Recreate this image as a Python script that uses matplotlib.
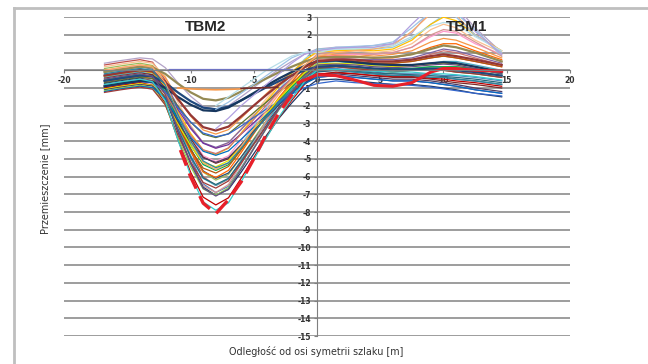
import numpy as np
import matplotlib
matplotlib.use("Agg")
import matplotlib.pyplot as plt
from matplotlib.lines import Line2D

plt.rcParams['axes.unicode_minus'] = False

# measuring points [m] shared by all profiles
x_pts = [-16.8, -15.5, -14, -13, -12, -11, -10, -9, -8, -7, -6, -5, -4, -3, -2, -1, 0,
         1.5, 3, 4.5, 6, 7.5, 9, 10, 11, 12.5, 14.6]

# settlement profiles [mm], one row per measurement series
profiles = [
    [0.4, 0.55, 0.7, 0.64, 0.15, -0.7, -1.46, -2.04, -2.2, -2.0, -1.5, -0.97, -0.44, 0.06, 0.5, 0.91, 1.2, 1.3, 1.3, 1.4, 1.5, 2.1, 3.4, 3.9, 3.6, 2.4, 1.0],
    [0.3, 0.45, 0.6, 0.46, -0.55, -2.65, -4.54, -6.01, -6.5, -6.15, -5.1, -3.98, -2.86, -1.81, -0.9, -0.06, 0.5, 0.6, 0.5, 0.4, 0.4, 0.5, 0.7, 0.8, 0.7, 0.5, 0.2],
    [0.2, 0.35, 0.5, 0.4, -0.35, -1.8, -3.1, -4.1, -4.4, -4.1, -3.3, -2.45, -1.6, -0.8, -0.1, 0.55, 1.0, 1.1, 1.1, 1.0, 1.1, 1.5, 2.3, 2.6, 2.4, 1.7, 1.0],
    [0.1, 0.25, 0.4, 0.27, -0.68, -2.63, -4.39, -5.75, -6.2, -5.88, -4.9, -3.86, -2.83, -1.85, -1.0, -0.22, 0.3, 0.3, 0.2, 0.1, 0.1, 0.1, 0.2, 0.2, 0.2, 0.1, -0.2],
    [0.0, 0.15, 0.3, 0.22, -0.4, -1.55, -2.58, -3.37, -3.6, -3.35, -2.7, -2.01, -1.32, -0.67, -0.1, 0.43, 0.8, 0.9, 0.9, 0.8, 0.9, 1.1, 1.6, 1.8, 1.7, 1.3, 0.7],
    [-0.05, 0.1, 0.25, 0.14, -0.68, -2.28, -3.72, -4.82, -5.15, -4.83, -3.95, -3.02, -2.1, -1.22, -0.45, 0.26, 0.75, 0.85, 0.9, 0.9, 1.0, 1.3, 1.9, 2.2, 2.1, 1.5, 0.9],
    [-0.1, 0.05, 0.2, 0.06, -0.95, -3.05, -4.94, -6.41, -6.9, -6.55, -5.5, -4.38, -3.26, -2.21, -1.3, -0.46, 0.1, 0.1, 0.0, -0.1, -0.2, -0.2, -0.2, -0.3, -0.3, -0.4, -0.6],
    [-0.2, -0.05, 0.1, -0.02, -0.9, -2.6, -4.12, -5.28, -5.6, -5.2, -4.2, -3.14, -2.08, -1.08, -0.2, 0.62, 1.2, 1.2, 1.2, 1.2, 1.3, 1.8, 2.6, 3.1, 3.2, 2.3, 0.8],
    [-0.25, -0.1, 0.05, -0.04, -0.73, -2.03, -3.2, -4.09, -4.35, -4.08, -3.35, -2.58, -1.82, -1.09, -0.45, 0.14, 0.55, 0.7, 0.6, 0.6, 0.6, 0.7, 1.0, 1.2, 1.1, 0.8, 0.4],
    [-0.3, -0.15, 0.0, -0.12, -1.0, -2.8, -4.42, -5.68, -6.1, -5.8, -4.9, -3.94, -2.98, -2.08, -1.3, -0.58, -0.1, 0.0, -0.1, -0.2, -0.3, -0.3, -0.4, -0.4, -0.5, -0.6, -0.8],
    [-0.35, -0.2, -0.05, -0.15, -0.9, -2.3, -3.55, -4.5, -4.75, -4.4, -3.55, -2.65, -1.75, -0.9, -0.15, 0.55, 1.05, 1.1, 1.15, 1.1, 1.2, 1.7, 2.6, 3.0, 2.8, 2.0, 1.1],
    [-0.4, -0.25, -0.1, -0.23, -1.18, -3.08, -4.79, -6.1, -6.5, -6.13, -5.1, -4.01, -2.93, -1.9, -1.0, -0.17, 0.4, 0.5, 0.4, 0.3, 0.3, 0.3, 0.4, 0.5, 0.5, 0.3, 0.0],
    [-0.45, -0.3, -0.15, -0.25, -1.0, -2.5, -3.85, -4.9, -5.25, -5.0, -4.25, -3.45, -2.65, -1.9, -1.25, -0.65, -0.25, -0.1, -0.2, -0.3, -0.4, -0.4, -0.5, -0.6, -0.7, -0.8, -1.0],
    [-0.5, -0.35, -0.2, -0.34, -1.35, -3.35, -5.14, -6.51, -6.9, -6.45, -5.3, -4.08, -2.86, -1.71, -0.7, 0.24, 0.9, 1.0, 0.95, 0.9, 1.0, 1.3, 2.0, 2.3, 2.2, 1.6, 0.8],
    [-0.55, -0.4, -0.25, -0.36, -1.18, -2.78, -4.22, -5.32, -5.65, -5.33, -4.45, -3.52, -2.6, -1.72, -0.95, -0.24, 0.25, 0.3, 0.2, 0.1, 0.1, 0.1, 0.2, 0.2, 0.2, 0.1, -0.2],
    [-0.6, -0.45, -0.3, -0.38, -1.0, -2.2, -3.28, -4.12, -4.4, -4.2, -3.6, -2.96, -2.32, -1.72, -1.2, -0.72, -0.4, -0.3, -0.4, -0.5, -0.6, -0.6, -0.7, -0.8, -0.9, -1.1, -1.3],
    [-0.65, -0.5, -0.35, -0.47, -1.35, -3.05, -4.57, -5.73, -6.05, -5.65, -4.65, -3.59, -2.53, -1.53, -0.65, 0.17, 0.75, 0.8, 0.8, 0.7, 0.7, 0.9, 1.3, 1.5, 1.5, 1.1, 0.6],
    [-0.7, -0.55, -0.4, -0.47, -1.03, -2.03, -2.92, -3.61, -3.8, -3.58, -3.0, -2.39, -1.79, -1.21, -0.7, -0.23, 0.1, 0.2, 0.1, 0.0, -0.1, 0.0, 0.0, 0.0, -0.1, -0.2, -0.4],
    [-0.75, -0.6, -0.45, -0.58, -1.53, -3.48, -5.24, -6.6, -7.05, -6.73, -5.75, -4.71, -3.68, -2.7, -1.85, -1.07, -0.55, -0.5, -0.6, -0.7, -0.8, -0.8, -0.9, -1.0, -1.1, -1.3, -1.5],
    [-0.8, -0.65, -0.5, -0.59, -1.28, -2.53, -3.65, -4.49, -4.7, -4.38, -3.6, -2.78, -1.97, -1.19, -0.5, 0.14, 0.6, 0.65, 0.6, 0.5, 0.5, 0.6, 0.9, 1.1, 1.0, 0.7, 0.3],
    [-0.85, -0.7, -0.55, -0.67, -1.55, -3.3, -4.87, -6.08, -6.45, -6.1, -5.15, -4.14, -3.13, -2.18, -1.35, -0.58, -0.05, 0.0, -0.05, -0.15, -0.2, -0.25, -0.3, -0.35, -0.4, -0.5, -0.7],
    [-0.9, -0.75, -0.6, -0.71, -1.53, -3.08, -4.47, -5.52, -5.8, -5.43, -4.5, -3.52, -2.55, -1.62, -0.8, -0.04, 0.5, 0.6, 0.5, 0.4, 0.4, 0.5, 0.7, 0.8, 0.7, 0.5, 0.2],
    [-0.95, -0.8, -0.65, -0.71, -1.2, -2.1, -2.91, -3.54, -3.75, -3.6, -3.15, -2.67, -2.19, -1.74, -1.35, -0.99, -0.75, -0.6, -0.7, -0.75, -0.8, -0.85, -0.95, -1.05, -1.15, -1.3, -1.45],
    [-1.0, -0.85, -0.7, -0.84, -1.85, -3.9, -5.74, -7.16, -7.6, -7.2, -6.1, -4.93, -3.76, -2.66, -1.7, -0.81, -0.2, -0.15, -0.2, -0.3, -0.35, -0.35, -0.45, -0.5, -0.6, -0.7, -0.9],
    [-1.05, -0.9, -0.75, -0.85, -1.6, -3.0, -4.25, -5.2, -5.45, -5.1, -4.25, -3.35, -2.45, -1.6, -0.85, -0.15, 0.35, 0.4, 0.35, 0.25, 0.2, 0.25, 0.35, 0.4, 0.35, 0.2, -0.1],
    [-1.1, -0.95, -0.8, -0.89, -1.58, -2.88, -4.05, -4.94, -5.2, -4.93, -4.2, -3.43, -2.67, -1.94, -1.3, -0.71, -0.3, -0.2, -0.3, -0.4, -0.5, -0.5, -0.6, -0.7, -0.8, -1.0, -1.2],
    [-1.15, -1.0, -0.85, -0.98, -1.93, -3.78, -5.44, -6.7, -7.05, -6.63, -5.55, -4.41, -3.28, -2.2, -1.25, -0.37, 0.25, 0.25, 0.15, 0.05, 0.0, 0.0, 0.1, 0.1, 0.05, -0.05, -0.3],
    [-1.2, -1.05, -0.9, -0.98, -1.6, -2.75, -3.78, -4.57, -4.8, -4.55, -3.9, -3.21, -2.52, -1.87, -1.3, -0.77, -0.4, -0.3, -0.4, -0.5, -0.6, -0.6, -0.7, -0.8, -0.9, -1.1, -1.3],
    [-1.25, -1.1, -0.95, -1.07, -1.95, -3.65, -5.17, -6.33, -6.65, -6.25, -5.25, -4.19, -3.13, -2.13, -1.25, -0.43, 0.15, 0.2, 0.1, 0.0, -0.1, 0.0, 0.0, 0.0, -0.1, -0.2, -0.4],
    [-0.1, 0.05, 0.2, 0.16, -0.2, -0.75, -1.24, -1.61, -1.7, -1.55, -1.2, -0.83, -0.46, -0.11, 0.2, 0.49, 0.7, 0.75, 0.75, 0.7, 0.75, 0.9, 1.2, 1.4, 1.3, 1.0, 0.5],
    [-0.6, -0.45, -0.3, -0.34, -0.7, -1.25, -1.74, -2.11, -2.2, -2.05, -1.7, -1.33, -0.96, -0.61, -0.3, -0.01, 0.2, 0.25, 0.2, 0.1, 0.05, 0.05, 0.1, 0.1, 0.0, -0.1, -0.3],
    [-0.9, -0.75, -0.6, -0.64, -1.0, -1.5, -1.94, -2.26, -2.3, -2.1, -1.7, -1.28, -0.86, -0.46, -0.1, 0.24, 0.5, 0.55, 0.45, 0.35, 0.3, 0.3, 0.4, 0.45, 0.4, 0.2, -0.1],
    [-0.3, -0.15, 0.0, -0.07, -0.63, -1.63, -2.52, -3.21, -3.4, -3.18, -2.6, -1.99, -1.39, -0.81, -0.3, 0.17, 0.5, 0.6, 0.6, 0.5, 0.5, 0.6, 0.8, 0.9, 0.8, 0.6, 0.3],
    [0.0, 0.15, 0.3, 0.18, -0.7, -2.45, -4.02, -5.23, -5.6, -5.25, -4.3, -3.29, -2.28, -1.33, -0.5, 0.27, 0.8, 1.0, 1.1, 1.2, 1.4, 2.2, 3.2, 3.5, 3.1, 2.0, 1.1],
    [-0.5, -0.35, -0.2, -0.34, -1.35, -3.4, -5.24, -6.66, -7.1, -6.7, -5.6, -4.43, -3.26, -2.16, -1.2, -0.31, 0.3, 0.35, 0.3, 0.2, 0.15, 0.2, 0.3, 0.35, 0.3, 0.1, -0.2],
    [-0.2, -0.05, 0.1, -0.01, -0.83, -2.48, -3.97, -5.12, -5.5, -5.23, -4.4, -3.52, -2.65, -1.82, -1.1, -0.44, 0.0, 0.0, -0.1, -0.2, -0.3, -0.3, -0.4, -0.4, -0.5, -0.6, -0.8],
    [-0.8, -0.65, -0.5, -0.65, -1.73, -3.93, -5.91, -7.43, -7.9, -7.48, -6.3, -5.05, -3.81, -2.63, -1.6, -0.65, 0.0, 0.05, 0.0, -0.05, -0.1, -0.1, -0.2, -0.2, -0.25, -0.35, -0.55],
]

# shorter series that start near the TBM2 trough
x_late = [-8, -7, -6, -5, -4, -3, -2, -1, 0, 1.5, 3, 4.5, 6, 7.5, 9, 10, 11, 12.5, 14.6]
late_profiles = [
    [-2.2, -1.8, -1.3, -0.8, -0.3, 0.2, 0.7, 1.0, 1.1, 1.3, 1.35, 1.4, 1.6, 2.4, 3.3, 3.4, 3.0, 2.0, 1.0],
    [-2.0, -1.5, -1.0, -0.5, 0.0, 0.4, 0.8, 1.0, 1.0, 1.2, 1.2, 1.3, 1.4, 1.9, 2.5, 2.7, 2.6, 1.9, 1.1],
    [-3.3, -2.7, -2.0, -1.4, -0.8, -0.2, 0.4, 0.9, 1.1, 1.25, 1.3, 1.3, 1.5, 2.6, 3.6, 4.0, 3.4, 2.2, 0.9],
]

# fragments
x_flat_orange = [-11, -10, -9, -8, -7, -6]
y_flat_orange = [-1.0, -1.05, -1.08, -1.1, -1.08, -1.05]
x_flat_brown = [-6, -5, -4, -3.1]
y_flat_brown = [-1.02, -1.0, -0.98, -0.95]
x_flat_blue = [-11.6, -2]
y_flat_blue = [0.0, 0.0]

# envelope (red dashed)
x_env = [-10.8, -10, -9, -8, -7, -6, -5, -4, -3, -2, -1.6]
y_env = [-4.5, -6.0, -7.5, -8.1, -7.3, -6.3, -5.0, -3.6, -2.4, -1.4, -0.9]

# thick red TBM1 profile
x_red = [-1.5, -1, 0, 1.5, 3, 4.5, 6, 7.5, 9, 10, 11, 12.5, 14.6]
y_red = [-0.7, -0.55, -0.25, -0.3, -0.55, -0.85, -0.9, -0.7, -0.1, 0.1, 0.1, 0.0, -0.05]

colors = ['#B3A2C7', '#C0504D', '#FAC090', '#9BBB59', '#F79646', '#FF99CC', '#4F81BD',
          '#93CDDD', '#8064A2', '#2C4D75', '#FFC000', '#4BACC6', '#772C2A', '#D99694',
          '#00B050', '#7030A0', '#FF6600', '#5F7530', '#1F3864', '#CD7371', '#276A7C',
          '#B65708', '#3366CC', '#C00000', '#E6E600', '#4D3B62', '#92D050', '#0070C0',
          '#9F3B38', '#948A54', '#1F497D', '#17375E', '#953735', '#F9AB6B', '#664F83',
          '#31859C', '#33CCCC']
widths = [0.9] * len(profiles)
for i in (29, 30, 31, 32):
    widths[i] = 1.6
late_colors = ['#9DC3E6', '#B7DEE8', '#B1A0E0']

fig = plt.figure(figsize=(6.48, 3.64), dpi=100)
ax = fig.add_axes([0.0988, 0.0769, 0.7808, 0.876])

for row, c, w in zip(profiles, colors, widths):
    ax.plot(x_pts, row, color=c, lw=w, solid_joinstyle='round')
for row, c in zip(late_profiles, late_colors):
    ax.plot(x_late, row, color=c, lw=0.9)
ax.plot(x_flat_orange, y_flat_orange, color='#F79646', lw=1.2)
ax.plot(x_flat_brown, y_flat_brown, color='#772C2A', lw=1.2)
ax.plot(x_flat_blue, y_flat_blue, color='#6F74C8', lw=1.6)
ax.plot(x_red, y_red, color='#E8202A', lw=2.2)
ax.plot(x_env, y_env, color='#E8202A', lw=2.4, dashes=(5, 2.5))

ax.set_xlim(-20, 20)
ax.set_ylim(-15, 3)
ax.set_xticks(range(-20, 21, 5))
ax.set_yticks(range(-15, 4))
ax.yaxis.grid(True, color='#8C8C8C', lw=1.2)
ax.set_axisbelow(True)

for s in ('top', 'right'):
    ax.spines[s].set_visible(False)
ax.spines['left'].set_position(('data', 0))
ax.spines['bottom'].set_position(('data', 0))
ax.spines['left'].set_color('#7F7F7F')
ax.spines['bottom'].set_color('#7F7F7F')
ax.tick_params(axis='both', labelsize=5.5, colors='#7F7F7F', labelcolor='#333333',
               length=2.5, width=0.8, pad=1.5)
for lab in ax.get_xticklabels() + ax.get_yticklabels():
    lab.set_fontweight('bold')

ax.text(-8.8, 2.45, 'TBM2', fontsize=11, fontweight='bold', color='#262626',
        ha='center', va='center', family='Liberation Sans')
ax.text(11.8, 2.45, 'TBM1', fontsize=11, fontweight='bold', color='#262626',
        ha='center', va='center', family='Liberation Sans')

fig.text(0.069, 0.51, 'Przemieszczenie [mm]', rotation=90, fontsize=7,
         ha='center', va='center', color='#333333')
fig.text(0.488, 0.033, 'Odległość od osi symetrii szlaku [m]', fontsize=6.9,
         ha='center', va='center', color='#333333')

# chart area frame
fig.add_artist(Line2D([14 / 648, 14 / 648], [0, 1 - 8 / 364], transform=fig.transFigure,
                      color='#BFBFBF', lw=2))
fig.add_artist(Line2D([14 / 648, 1], [1 - 8 / 364, 1 - 8 / 364], transform=fig.transFigure,
                      color='#BFBFBF', lw=2))

fig.savefig('out.png', dpi=100)
